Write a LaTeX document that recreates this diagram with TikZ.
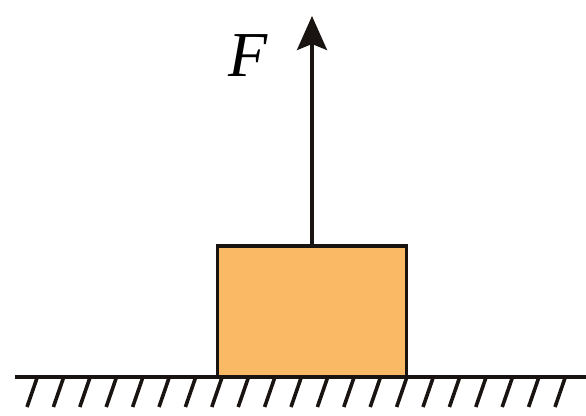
\documentclass[tikz,border=0pt]{standalone}
\usepackage{fontspec}
\setmainfont{Liberation Serif}
\usetikzlibrary{arrows.meta}
\definecolor{blockfill}{RGB}{250,185,100}
\definecolor{edge}{RGB}{25,20,18}
\begin{document}
\begin{tikzpicture}[x=1pt,y=-1pt,
  groundline/.style={line width=4pt,draw=edge},
  hatchline/.style={line width=3.6pt,draw=edge},
  blockbox/.style={draw=edge,fill=blockfill,line width=3.2pt,minimum width=189pt,minimum height=131pt,inner sep=0pt},
  forcearrow/.style={line width=3.6pt,draw=edge,-{Stealth[length=34pt,width=30pt,inset=6pt]}}]
\useasboundingbox (0,0) rectangle (586,415);
\foreach \i in {0,...,20}{
  \draw[hatchline] ({37+26.4*\i},378) -- ({27+26.4*\i},407);
}
\node[blockbox] (block) at (312,311.5) {};
\coordinate (gl) at (15,377);
\coordinate (gr) at (586,377);
\draw[groundline] (gl) -- (gr);
\coordinate (tip) at (312,16);
\draw[forcearrow] (block.north) -- (tip);
\node (F) at (248,56) {\fontsize{64}{64}\selectfont\itshape F};
\end{tikzpicture}
\end{document}
